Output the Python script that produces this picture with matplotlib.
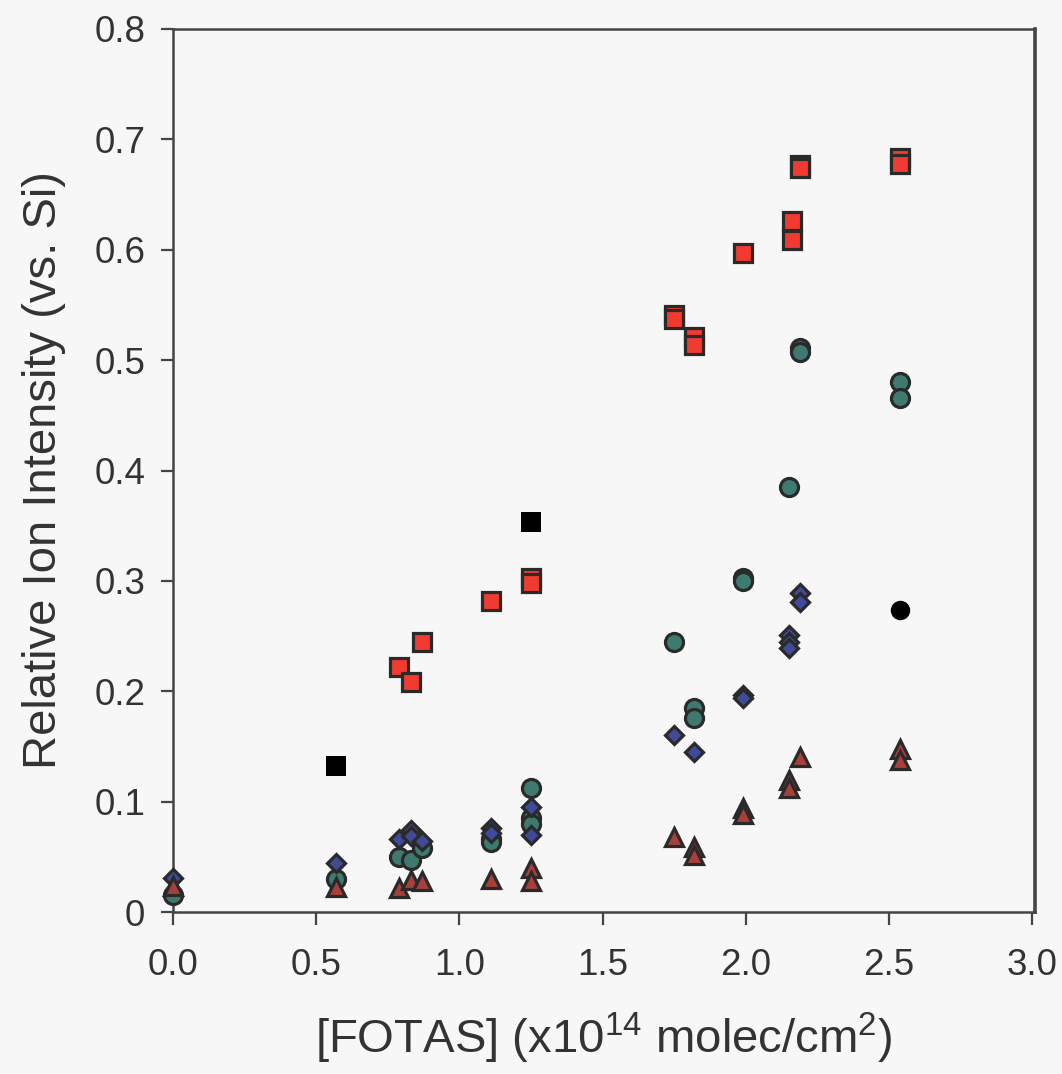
import numpy as np
import matplotlib
matplotlib.use("Agg")
import matplotlib.pyplot as plt

plt.rcParams['font.family'] = ['Liberation Sans', 'DejaVu Sans']
plt.rcParams['mathtext.default'] = 'regular'

# red squares
sq_x = [0.79, 0.83, 0.87, 1.11, 1.25, 1.25, 1.75, 1.75, 1.82, 1.82, 1.99, 2.16, 2.16, 2.19, 2.19, 2.54, 2.54]
sq_y = [0.222, 0.208, 0.245, 0.282, 0.303, 0.298, 0.541, 0.537, 0.521, 0.514, 0.597, 0.626, 0.609, 0.677, 0.674, 0.683, 0.678]

# teal circles
ci_x = [0.0, 0.57, 0.79, 0.83, 0.87, 1.11, 1.11, 1.25, 1.25, 1.25, 1.75, 1.82, 1.82, 1.99, 1.99, 2.15, 2.19, 2.19, 2.54, 2.54]
ci_y = [0.015, 0.030, 0.050, 0.047, 0.058, 0.066, 0.063, 0.112, 0.085, 0.080, 0.245, 0.185, 0.176, 0.303, 0.300, 0.385, 0.511, 0.507, 0.480, 0.466]

# blue diamonds
di_x = [0.0, 0.57, 0.79, 0.83, 0.83, 0.87, 1.11, 1.11, 1.25, 1.25, 1.75, 1.82, 1.99, 1.99, 2.15, 2.15, 2.15, 2.19, 2.19]
di_y = [0.031, 0.044, 0.066, 0.074, 0.069, 0.064, 0.076, 0.072, 0.095, 0.070, 0.160, 0.145, 0.197, 0.194, 0.251, 0.245, 0.239, 0.289, 0.281]

# brown triangles
tr_x = [0.0, 0.57, 0.79, 0.83, 0.87, 1.11, 1.25, 1.25, 1.75, 1.82, 1.82, 1.99, 1.99, 2.15, 2.15, 2.19, 2.54, 2.54]
tr_y = [0.024, 0.023, 0.022, 0.029, 0.028, 0.030, 0.040, 0.028, 0.068, 0.059, 0.052, 0.094, 0.089, 0.120, 0.112, 0.140, 0.148, 0.138]

# black reference points
bsq_x = [0.57, 1.25]
bsq_y = [0.132, 0.353]
bci_x = [2.54]
bci_y = [0.274]

yticks = [0, 0.1, 0.2, 0.3, 0.4, 0.5, 0.6, 0.7, 0.8]
ytick_labels = ['0', '0.1', '0.2', '0.3', '0.4', '0.5', '0.6', '0.7', '0.8']
xticks = [0.0, 0.5, 1.0, 1.5, 2.0, 2.5, 3.0]

bg = '#f7f7f7'
edge = '#2a2a2a'
fig = plt.figure(figsize=(10.62, 10.74), dpi=100, facecolor=bg)
ax = fig.add_axes([173/1062, 1 - 912/1074, (1035 - 173)/1062, (912 - 29)/1074])
ax.set_facecolor(bg)

common = dict(linestyle='none', markeredgecolor=edge, markeredgewidth=2.3, clip_on=False)
ax.plot(sq_x, sq_y, marker='s', markersize=12.5, markerfacecolor='#f23b30', zorder=3, **common)
ax.plot(ci_x, ci_y, marker='o', markersize=13, markerfacecolor='#3f7a70', zorder=4, **common)
ax.plot(di_x, di_y, marker='D', markersize=9.5, markerfacecolor='#3f4a98', zorder=5, **common)
ax.plot(tr_x, tr_y, marker='^', markersize=13, markerfacecolor='#a8403a', zorder=6, **common)
ax.plot(bsq_x, bsq_y, linestyle='none', marker='s', markersize=14, color='black', markeredgewidth=0, zorder=3)
ax.plot(bci_x, bci_y, linestyle='none', marker='o', markersize=14, color='black', markeredgewidth=0, zorder=3)

ax.set_xlim(0, 3.01)
ax.set_ylim(0, 0.8)
ax.set_xticks(xticks)
ax.set_xticklabels(['%.1f' % v for v in xticks])
ax.set_yticks(yticks)
ax.set_yticklabels(ytick_labels)

for s in ['left', 'bottom', 'top']:
    ax.spines[s].set_color('#444444')
    ax.spines[s].set_linewidth(1.8)
ax.spines['right'].set_color('#444444')
ax.spines['right'].set_linewidth(2.6)

ax.tick_params(axis='both', direction='out', length=9, width=1.6, color='#444444',
               labelsize=26.5, labelcolor='#333333')
ax.tick_params(axis='y', pad=11)
ax.tick_params(axis='x', pad=17)

ax.set_xlabel(r'[FOTAS] (x10$^{14}$ molec/cm$^{2}$)', fontsize=34, color='#333333', labelpad=20)
ax.set_ylabel('Relative Ion Intensity (vs. Si)', fontsize=34, color='#333333', labelpad=20)

fig.savefig('out.png', dpi=100, facecolor=bg)
